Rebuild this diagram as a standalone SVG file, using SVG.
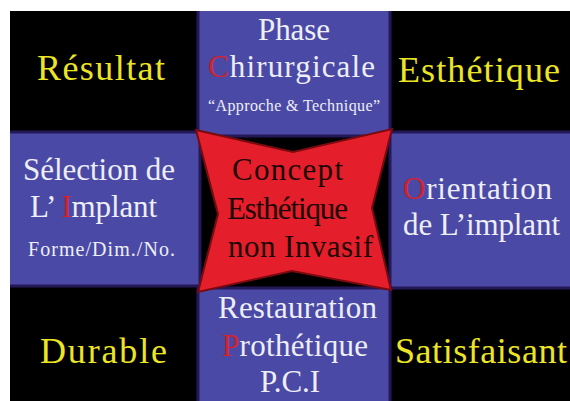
<svg xmlns="http://www.w3.org/2000/svg" width="570" height="401" viewBox="0 0 570 401">
<defs><clipPath id="frame"><rect x="10" y="11" width="560" height="390"/></clipPath></defs>
<style>
.panel{fill:#4a4aa6;stroke:#241858;stroke-width:3}
.t{font-family:"Liberation Serif","Times New Roman",serif}
.w{fill:#eeeef6}
.y{fill:#ece526}
.r{fill:#d8202a}
.k{fill:#1c0606}
.big{font-size:36px}
.mid{font-size:31px}
.ctr{font-size:31px}
</style>
<rect x="0" y="0" width="570" height="401" fill="#ffffff"/>
<g clip-path="url(#frame)">
<rect id="bg" x="10" y="11" width="560" height="390" fill="#000000"/>
<g id="connectors"></g>
<g id="panel-top"><rect class="panel" x="198" y="6" width="192" height="130"/>
<text class="t w mid" x="258" y="40" textLength="72">Phase</text>
<text class="t w mid" x="208" y="77" textLength="167"><tspan class="r">C</tspan>hirurgicale</text>
<text class="t w" font-size="16" x="208" y="111" textLength="172">“Approche &amp; Technique”</text>
</g>
<g id="panel-left"><rect class="panel" x="5" y="132" width="195" height="154"/>
<text class="t w mid" x="23" y="180" textLength="152">Sélection de</text>
<text class="t w mid" x="30" y="217" textLength="127">L’ <tspan class="r">I</tspan>mplant</text>
<text class="t w" font-size="20" x="28" y="256" textLength="147">Forme/Dim./No.</text>
</g>
<g id="panel-right"><rect class="panel" x="390" y="132" width="184" height="156"/>
<text class="t w mid" x="403" y="199" textLength="149"><tspan class="r">O</tspan>rientation</text>
<text class="t w mid" x="403" y="235" textLength="157">de L’implant</text>
</g>
<g id="panel-bottom"><rect class="panel" x="198" y="288" width="192" height="117"/>
<text class="t w mid" x="218" y="318" textLength="159">Restauration</text>
<text class="t w mid" x="222" y="356" textLength="146"><tspan class="r">P</tspan>rothétique</text>
<text class="t w mid" x="260" y="392" textLength="60">P.C.I</text>
</g>
<g id="center">
<polygon points="196,130 293,152 392,129 372,208 391,290 292,271 198,292 218,214" fill="#e41f2b" stroke="#7a0a10" stroke-width="2"/>
<text class="t k ctr" x="232" y="180" textLength="111">Concept</text>
<text class="t k ctr" x="227" y="219" textLength="121">Esthétique</text>
<text class="t k ctr" x="228" y="257" textLength="145">non Invasif</text>
</g>
<g id="resultat"><text class="t y big" x="37" y="80" textLength="128">Résultat</text></g>
<g id="esthetique"><text class="t y big" x="398" y="82" textLength="162">Esthétique</text></g>
<g id="durable"><text class="t y big" x="40" y="363" textLength="127">Durable</text></g>
<g id="satisfaisant"><text class="t y big" x="395" y="363" textLength="172">Satisfaisant</text></g>
</g>
</svg>
